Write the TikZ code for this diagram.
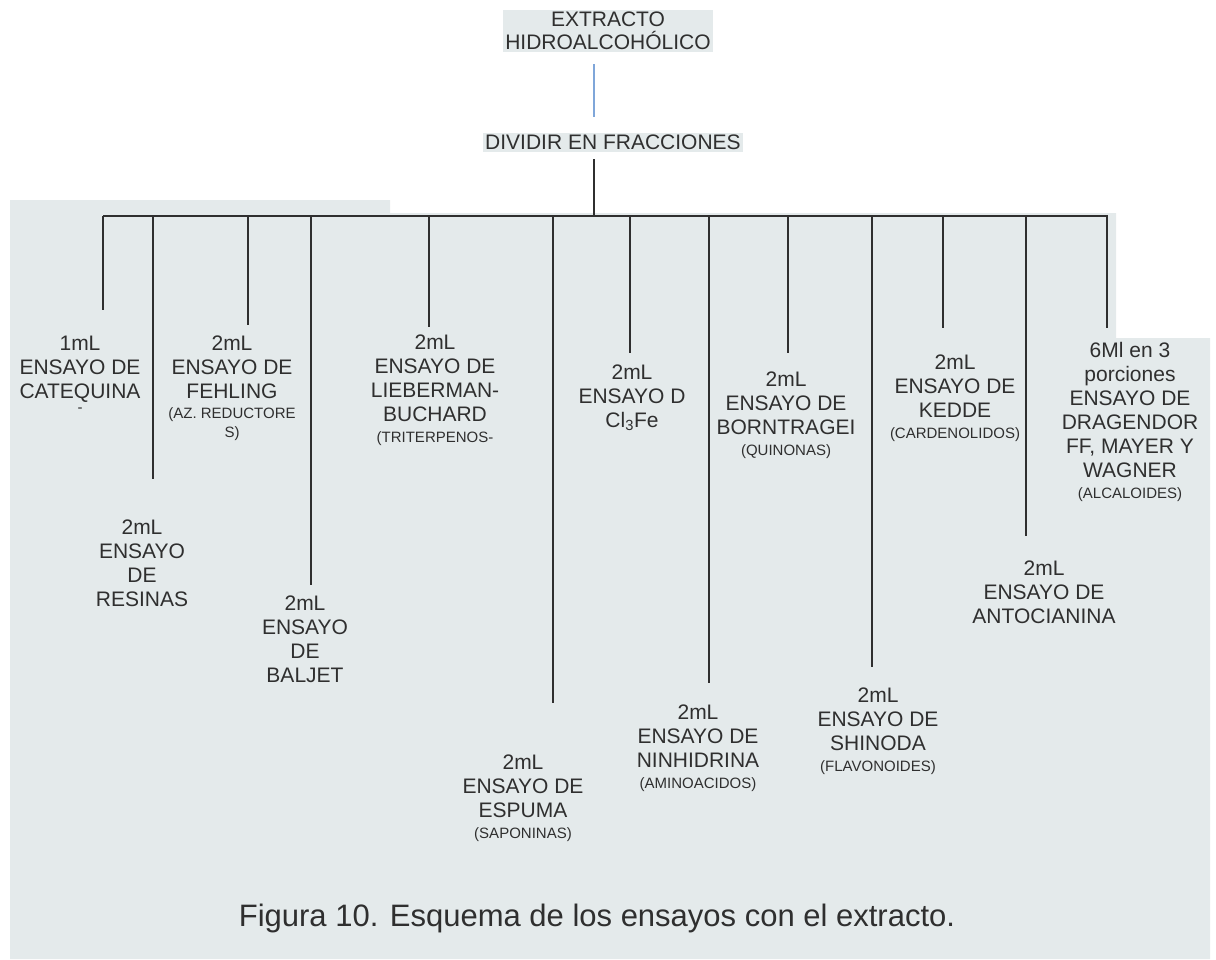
\documentclass[tikz,border=0pt]{standalone}
\usepackage{fontspec}
\setmainfont{Liberation Sans}
\definecolor{paper}{HTML}{E4EAEB}
\definecolor{ink}{HTML}{2F2F2F}
\definecolor{stemblue}{HTML}{7FA6D9}
\newcommand{\chico}{\fontsize{15}{18}\selectfont}

\begin{document}
\begin{tikzpicture}[x=1pt,y=-1pt,
  every node/.style={text=ink},
  lbl/.style={align=center,anchor=north,inner sep=0pt,font=\fontsize{21}{24}\selectfont},
  head/.style={align=center,anchor=north,inner sep=2pt,fill=paper,font=\fontsize{21}{23}\selectfont},
  drop/.style={draw=ink,line width=1.6pt},
  blueline/.style={draw=stemblue,line width=1.4pt}]
  \useasboundingbox (0,0) rectangle (1216,959);
  % fondo escaneado
  \fill[paper] (10,200) -- (390,200) -- (390,213) -- (1116,213) -- (1116,338)
    -- (1210,338) -- (1210,959) -- (10,959) -- cycle;
  \node[head] (ext) at (608,10) {EXTRACTO\\HIDROALCOHÓLICO};
  \node[head] (div) at (613,133) {DIVIDIR EN FRACCIONES};
  \coordinate (stem) at (594,216);
  \draw[blueline,shorten <=12pt,shorten >=16pt] (ext.south -| stem) -- (div.north -| stem);
  \draw[drop,shorten <=7pt] (div.south -| stem) -- (stem);
  % ramas
  \foreach \n/\x/\y in {1/103/310, 2/153/479, 3/248/325, 4/311/585, 5/429/327,
    6/553/703, 7/630/353, 8/709/683, 9/788/353, 10/872/667, 11/943/328,
    12/1026/536, 13/1107/328} {
    \coordinate (top\n) at (\x,216);
    \coordinate (end\n) at (\x,\y);
  }
  \draw[drop] (top1) -- (top13) -- (end13);
  \foreach \n in {1,...,12} {\draw[drop] (top\n) -- (end\n);}
  % ensayos
  \node[lbl] (cat) at (80,335.5) {1mL\\ENSAYO DE\\CATEQUINA\\[-10pt]{\chico -}};
  \node[lbl] (res) at (142,519.5) {2mL\\ENSAYO\\DE\\RESINAS};
  \node[lbl] (feh) at (232,335.5) {2mL\\ENSAYO DE\\FEHLING\\[-4pt]{\chico (AZ. REDUCTORE}\\[-5pt]{\chico S)}};
  \node[lbl] (bal) at (305,595.5) {2mL\\ENSAYO\\DE\\BALJET};
  \node[lbl] (lie) at (435,334.5) {2mL\\ENSAYO DE\\LIEBERMAN-\\BUCHARD\\[-3pt]{\chico (TRITERPENOS-}};
  \node[lbl] (esp) at (523,754.5) {2mL\\ENSAYO DE\\ESPUMA\\[-3pt]{\chico (SAPONINAS)}};
  \node[lbl] (clfe) at (632,364.5) {2mL\\ENSAYO D\\Cl\textsubscript{3}Fe};
  \node[lbl] (nin) at (698,704.5) {2mL\\ENSAYO DE\\NINHIDRINA\\[-3pt]{\chico (AMINOACIDOS)}};
  \node[lbl] (bor) at (786,372) {2mL\\ENSAYO DE\\BORNTRAGEI\\[-3pt]{\chico (QUINONAS)}};
  \node[lbl] (shi) at (878,687.5) {2mL\\ENSAYO DE\\SHINODA\\[-3pt]{\chico (FLAVONOIDES)}};
  \node[lbl] (ked) at (955,354.5) {2mL\\ENSAYO DE\\KEDDE\\[-3pt]{\chico (CARDENOLIDOS)}};
  \node[lbl] (ant) at (1044,560.5) {2mL\\ENSAYO DE\\ANTOCIANINA};
  \node[lbl] (alc) at (1130,342.5) {6Ml en 3\\porciones\\ENSAYO DE\\DRAGENDOR\\FF, MAYER Y\\WAGNER\\[-3pt]{\chico (ALCALOIDES)}};
  % pie
  \node[font=\fontsize{31}{36}\selectfont] (fig) at (597,918) {Figura 10. Esquema de los ensayos con el extracto.};
\end{tikzpicture}
\end{document}
